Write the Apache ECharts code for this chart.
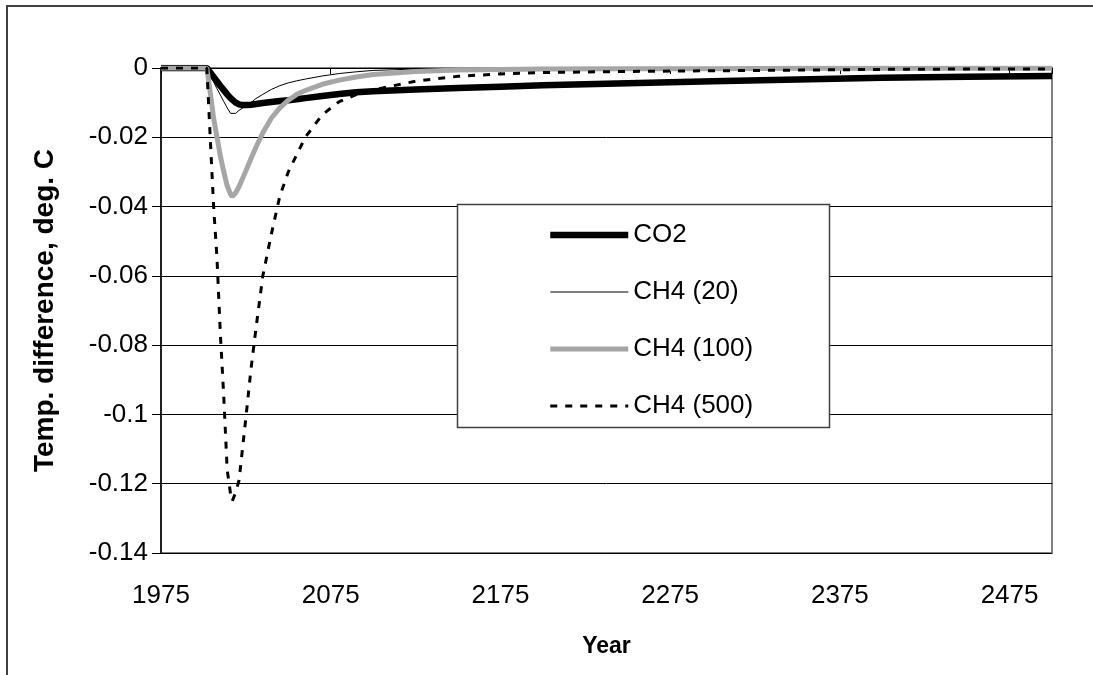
<!DOCTYPE html>
<html><head><meta charset="utf-8">
<script src="https://cdn.jsdelivr.net/npm/echarts@6/dist/echarts.min.js"></script>
<style>html,body{margin:0;padding:0;background:#fff}#c{width:1093px;height:675px}</style>
</head><body><div id="c"></div>
<script>
// ---- data ----
const years = [1975, 2000, 2002, 2004, 2006, 2008, 2010, 2012, 2014, 2016, 2017, 2019, 2021, 2023, 2025, 2028, 2031, 2035, 2040, 2045, 2050, 2055, 2060, 2070, 2080, 2090, 2100, 2125, 2150, 2175, 2200, 2250, 2300, 2350, 2400, 2450, 2500];
const co2 = [0, 0, 0, -0.0013, -0.0026, -0.0039, -0.0052, -0.0064, -0.0076, -0.0087, -0.0092, -0.0100, -0.0105, -0.0107, -0.0107, -0.0106, -0.0104, -0.0101, -0.0098, -0.0095, -0.0093, -0.0090, -0.0087, -0.0081, -0.0075, -0.0070, -0.0067, -0.0062, -0.0058, -0.0054, -0.0050, -0.0044, -0.0038, -0.0033, -0.0028, -0.0025, -0.0023];
const ch4_20 = [0, 0, 0, -0.0020, -0.0040, -0.0060, -0.0078, -0.0097, -0.0115, -0.0131, -0.0136, -0.0131, -0.0122, -0.0116, -0.0110, -0.0100, -0.0088, -0.0076, -0.0062, -0.0051, -0.0043, -0.0037, -0.0032, -0.0023, -0.0016, -0.0011, -0.0007, -0.0003, -0.0002, -0.0001, -0.0001, 0, 0, 0, 0, 0, 0];
const ch4_100 = [0, 0, 0, -0.0070, -0.0145, -0.0200, -0.0255, -0.0300, -0.0340, -0.0365, -0.0371, -0.0360, -0.0342, -0.0320, -0.0297, -0.0262, -0.0228, -0.0187, -0.0145, -0.0115, -0.0093, -0.0076, -0.0065, -0.0047, -0.0035, -0.0026, -0.0019, -0.0010, -0.0006, -0.0004, -0.0003, -0.0002, -0.0002, -0.0001, -0.0001, -0.0001, -0.0001];
const ch4_500 = [0, 0, 0, -0.020, -0.040, -0.055, -0.077, -0.095, -0.116, -0.123, -0.125, -0.1225, -0.119, -0.110, -0.101, -0.087, -0.075, -0.060, -0.048, -0.037, -0.030, -0.025, -0.020, -0.0135, -0.0097, -0.0077, -0.0063, -0.0038, -0.0024, -0.0017, -0.0013, -0.0010, -0.0008, -0.0006, -0.0004, -0.0003, -0.0003];
const seriesNames = ['CO2', 'CH4 (20)', 'CH4 (100)', 'CH4 (500)'];
const xTickLabels = ['1975', '2075', '2175', '2275', '2375', '2475'];
const xTitle = 'Year';
const yTitle = 'Temp. difference, deg. C';

const FONT = '"Liberation Sans", Arial, sans-serif';
const pairs = arr => years.map((y, i) => [y, arr[i]]);
const styles = [
  {color: '#000', width: 6.5, type: 'solid'},
  {color: '#000', width: 1, type: 'solid'},
  {color: '#a6a6a6', width: 5, type: 'solid'},
  {color: '#000', width: 3, type: [7, 8]}
];
const sourceData = [co2, ch4_20, ch4_100, ch4_500];

const chart = echarts.init(document.getElementById('c'), null, {renderer: 'canvas'});
chart.setOption({
  backgroundColor: '#fff',
  animation: false,
  textStyle: {fontFamily: FONT, color: '#000'},
  grid: {left: 161, top: 68, right: 41, bottom: 122, show: true, borderColor: '#808080', borderWidth: 2, backgroundColor: 'transparent'},
  xAxis: [{
    type: 'value', position: 'bottom', min: 1975, max: 2500, interval: 25,
    axisLine: {show: false, onZero: false},
    axisTick: {show: false},
    splitLine: {show: false},
    axisLabel: {
      margin: 30, fontSize: 26, color: '#000', fontFamily: FONT, showMaxLabel: false,
      formatter: v => xTickLabels.includes(String(v)) ? String(v) : ''
    },
    name: xTitle, nameLocation: 'middle', nameGap: 82,
    nameTextStyle: {fontSize: 23, fontWeight: 'bold', color: '#000', fontFamily: FONT}
  }, {
    type: 'value', position: 'top', min: 0, max: 525, interval: 100,
    axisLine: {show: true, onZero: false, lineStyle: {color: '#000', width: 1}},
    axisTick: {show: true, inside: true, length: 6, lineStyle: {color: '#000', width: 1}},
    axisLabel: {show: false}, splitLine: {show: false}
  }],
  yAxis: {
    type: 'value', min: -0.14, max: 0, interval: 0.02,
    axisLine: {show: true, lineStyle: {color: '#000', width: 1.5}},
    axisTick: {show: true, inside: false, length: 9, lineStyle: {color: '#000', width: 1}},
    splitLine: {show: true, lineStyle: {color: '#000', width: 1}},
    axisLabel: {margin: 13, fontSize: 26, color: '#000', fontFamily: FONT,
      formatter: v => v === 0 ? '0' : String(+v.toFixed(2))},
    name: yTitle, nameLocation: 'middle', nameRotate: 90, nameGap: 102,
    nameTextStyle: {fontSize: 28, fontWeight: 'bold', color: '#000', fontFamily: FONT}
  },
  legend: {
    orient: 'vertical', left: 547, top: 222, padding: 0, z: 10,
    itemWidth: 78, itemHeight: 14, itemGap: 31,
    itemStyle: {opacity: 0},
    textStyle: {fontSize: 26, lineHeight: 26, color: '#000', fontFamily: FONT},
    data: seriesNames.map((n, i) => ({name: n, lineStyle: {width: styles[i].width, type: styles[i].type, color: styles[i].color}}))
  },
  graphic: [
    {type: 'rect', silent: true, z: 100, shape: {x: 7, y: 6, width: 1120, height: 720}, style: {fill: 'none', stroke: '#404040', lineWidth: 2}},
    {type: 'rect', silent: true, z: 6, shape: {x: 457.5, y: 204.5, width: 372, height: 223}, style: {fill: '#fff', stroke: '#404040', lineWidth: 1.5}}
  ],
  series: seriesNames.map((n, i) => ({
    name: n, type: 'line', symbol: 'none', z: 2 + i,
    data: pairs(sourceData[i]),
    lineStyle: {color: styles[i].color, width: styles[i].width, type: styles[i].type},
    itemStyle: {color: styles[i].color}
  }))
});
</script>
</body></html>
